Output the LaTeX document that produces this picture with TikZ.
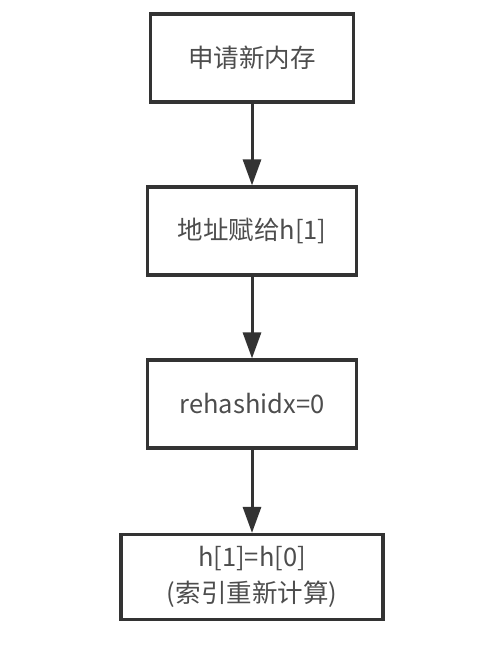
\documentclass[tikz,border=0pt]{standalone}
\usepackage{fontspec}
\setmainfont{Noto Sans CJK SC}
\usepackage{tikz}
\usetikzlibrary{shapes.geometric, arrows.meta}
\definecolor{boxline}{HTML}{333333}
\definecolor{boxtext}{HTML}{4D4D4D}
\tikzstyle{process} = [rectangle, minimum height=88pt, text centered, align=center, draw=boxline, line width=3.2pt, text=boxtext, font=\fontsize{25.5pt}{36pt}\selectfont]
\tikzstyle{arrow} = [line width=3pt, draw=boxline, -{Triangle[length=26pt,width=18pt]}]

\begin{document}
\begin{tikzpicture}[node distance=173pt]
		\useasboundingbox (0,0) rectangle (478pt,-653pt);
		\node (i1) [process, minimum width=203pt] at (252pt,-58pt) {申请新内存};
		\node (i2) [process, minimum width=209pt, below of=i1] {地址赋给h[1]};
		\node (i3) [process, minimum width=209pt, below of=i2] {rehashidx=0};
		\node (i4) [process, minimum width=262pt, minimum height=85pt, inner sep=2pt, below of=i3] {h[1]=h[0]\\(索引重新计算)};
		\draw [arrow] (i1) -- (i2);
		\draw [arrow] (i2) -- (i3);
		\draw [arrow] (i3) -- (i4);
		\end{tikzpicture}
\end{document}
